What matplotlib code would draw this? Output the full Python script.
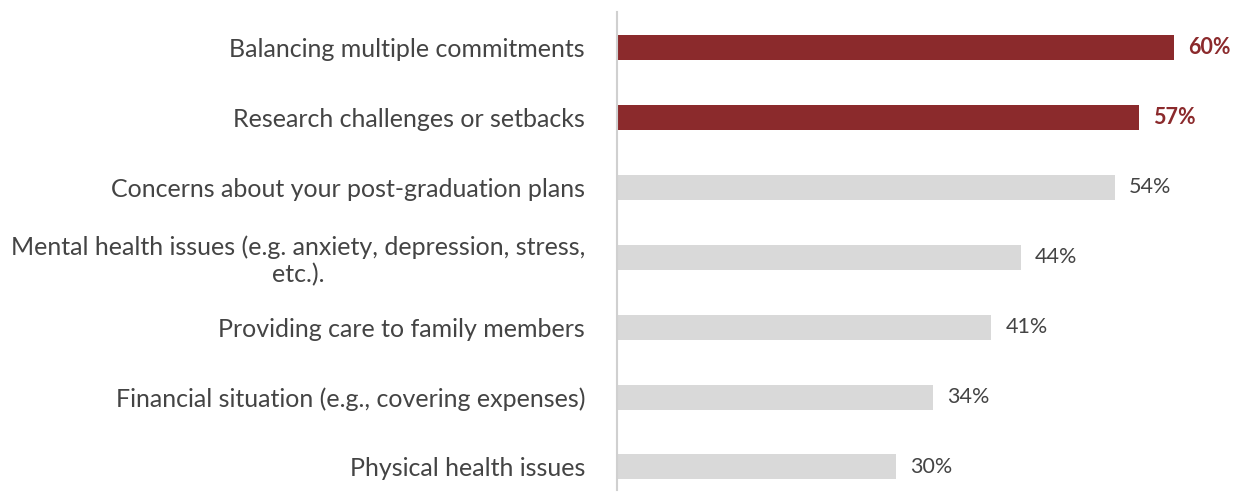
import matplotlib
matplotlib.use("Agg")
import matplotlib.pyplot as plt
import numpy as np

categories = ["Balancing multiple commitments",
              "Research challenges or setbacks",
              "Concerns about your post-graduation plans",
              "Mental health issues (e.g. anxiety, depression, stress,\netc.).",
              "Providing care to family members",
              "Financial situation (e.g., covering expenses)",
              "Physical health issues"]
# bar lengths; labels are the rounded shares shown
values = [60.4, 56.6, 54.0, 43.8, 40.6, 34.3, 30.3]
labels = ["60%", "57%", "54%", "44%", "41%", "34%", "30%"]
highlight = [True, True, False, False, False, False, False]

RED = "#8B2A2C"
GRAY = "#D9D9D9"
TXT = "#444444"
plt.rcParams["font.family"] = ["Lato", "DejaVu Sans"]

fig = plt.figure(figsize=(12.34, 4.94), dpi=100)
ax = fig.add_axes([0.5, 0.008, 0.5, 0.968])
y = np.arange(len(categories))
colors = [RED if h else GRAY for h in highlight]
ax.barh(y, values, height=0.357, color=colors)
ax.set_ylim(6.33, -0.51)
ax.set_xlim(0, 66.9)

for yi, v, lab, h in zip(y, values, labels, highlight):
    ax.text(v + 1.5, yi, lab, va="center", ha="left", fontsize=15.5,
            color=RED if h else TXT, fontweight="bold" if h else "normal")

ax.set_yticks(y)
ax.set_yticklabels(categories, fontsize=18, color=TXT,
                   multialignment="center", linespacing=1.2)
ax.tick_params(axis="y", length=0, pad=23)
ax.set_xticks([])
for s in ["top", "right", "bottom"]:
    ax.spines[s].set_visible(False)
ax.spines["left"].set_color("#D0D0D0")
ax.spines["left"].set_linewidth(1.5)

fig.savefig("out.png", dpi=100)
